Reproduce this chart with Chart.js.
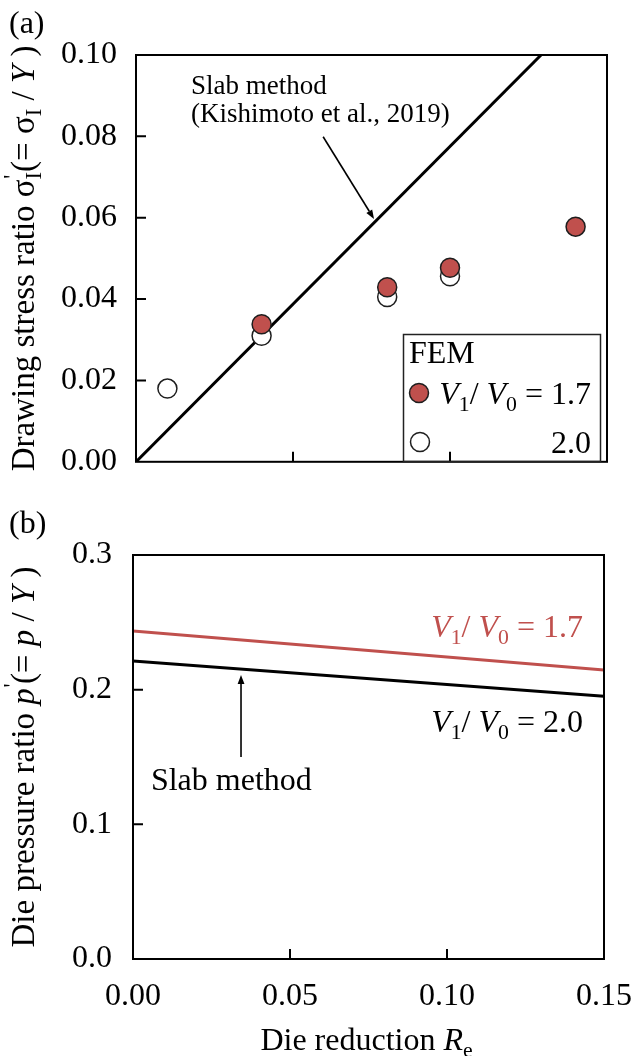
<!DOCTYPE html>
<html>
<head>
<meta charset="utf-8">
<script src="https://cdn.jsdelivr.net/npm/chart.js@4.4.1/dist/chart.umd.min.js"></script>
<style>
  html, body { margin: 0; padding: 0; background: #fff; }
  #c1 { position: absolute; left: 0; top: 0; }
  #c2 { position: absolute; left: 0; top: 500px; }
</style>
</head>
<body>
<canvas id="c1" width="631" height="500"></canvas>
<canvas id="c2" width="631" height="556"></canvas>
<script>
// ---------- data ----------
const xTickLabels = ['0.00', '0.05', '0.10', '0.15'];
const topYTickLabels = ['0.00', '0.02', '0.04', '0.06', '0.08', '0.10'];
const botYTickLabels = ['0.0', '0.1', '0.2', '0.3'];

// (a) FEM drawing stress ratio
const femRe17 = [0.04, 0.08, 0.10, 0.14];
const femSigma17 = [0.0338, 0.0429, 0.0477, 0.0578];
const femRe20 = [0.01, 0.04, 0.08, 0.10];
const femSigma20 = [0.018, 0.031, 0.0405, 0.0456];
// (a) slab method line
const slabRe = [0, 0.129];
const slabSigma = [0, 0.100];

// (b) die pressure ratio, slab method
const pressRe = [0, 0.15];
const press17 = [0.2435, 0.2146];
const press20 = [0.2212, 0.1952];

// ---------- helpers ----------
const SERIF = "'Liberation Serif','Times New Roman',serif";
const RED = '#c0504d';
const EDGE = '#1e1e1e';
const FS = 32;      // general font size
const TFS = 33;     // y-title font size
Chart.defaults.font.family = SERIF;
Chart.defaults.color = '#000';

function fontStr(size, italic) { return (italic ? 'italic ' : '') + size + 'px ' + SERIF; }
function segSize(s, size) { return (s.sub || s.sup) ? size * 0.68 : size; }
function richWidth(ctx, segs, size) {
  let w = 0;
  for (const s of segs) {
    ctx.font = fontStr(segSize(s, size), s.i);
    if (!s.noAdv) w += ctx.measureText(s.t).width;
  }
  return w;
}
function drawRich(ctx, segs, x, y, size, align, color) {
  ctx.save();
  ctx.fillStyle = color || '#000';
  ctx.textBaseline = 'alphabetic';
  ctx.textAlign = 'left';
  const w = richWidth(ctx, segs, size);
  let cx = align === 'center' ? x - w / 2 : align === 'right' ? x - w : x;
  for (const s of segs) {
    ctx.font = fontStr(segSize(s, size), s.i);
    const dy = s.sub ? size * 0.22 : s.sup ? -size * 0.45 : 0;
    ctx.fillText(s.t, cx + (s.dx || 0) * size, y + dy);
    if (!s.noAdv) cx += ctx.measureText(s.t).width;
  }
  ctx.restore();
}
function arrow(ctx, x1, y1, x2, y2, head, lw) {
  ctx.save();
  ctx.strokeStyle = '#000'; ctx.fillStyle = '#000'; ctx.lineWidth = lw;
  const a = Math.atan2(y2 - y1, x2 - x1);
  const bx = x2 - head * Math.cos(a), by = y2 - head * Math.sin(a);
  ctx.beginPath(); ctx.moveTo(x1, y1); ctx.lineTo(bx, by); ctx.stroke();
  const hw = head * 0.38;
  ctx.beginPath();
  ctx.moveTo(x2, y2);
  ctx.lineTo(bx + hw * Math.sin(a), by - hw * Math.cos(a));
  ctx.lineTo(bx - hw * Math.sin(a), by + hw * Math.cos(a));
  ctx.closePath(); ctx.fill();
  ctx.restore();
}
function marker(ctx, x, y, fill) {
  ctx.save();
  ctx.beginPath(); ctx.arc(x, y, 9.5, 0, Math.PI * 2);
  ctx.fillStyle = fill; ctx.fill();
  ctx.lineWidth = 1.5; ctx.strokeStyle = EDGE; ctx.stroke();
  ctx.restore();
}

// frame + inward tick marks
const framePlugin = {
  id: 'frame',
  afterDatasetsDraw(chart) {
    const { ctx, chartArea: ca, scales } = chart;
    ctx.save();
    ctx.strokeStyle = '#000';
    ctx.lineWidth = 2;
    ctx.strokeRect(ca.left, ca.top, ca.right - ca.left, ca.bottom - ca.top);
    const xs = scales.x, ys = scales.y;
    ctx.beginPath();
    xs.ticks.forEach(t => {
      if (t.value <= xs.min + 1e-9 || t.value >= xs.max - 1e-9) return;
      const p = xs.getPixelForValue(t.value);
      ctx.moveTo(p, ca.bottom); ctx.lineTo(p, ca.bottom - 10);
    });
    ys.ticks.forEach(t => {
      if (t.value <= ys.min + 1e-9 || t.value >= ys.max - 1e-9) return;
      const p = ys.getPixelForValue(t.value);
      ctx.moveTo(ca.left, p); ctx.lineTo(ca.left + 10, p);
    });
    ctx.stroke();
    ctx.restore();
  }
};

// annotations for (a)
const annoTop = {
  id: 'annoTop',
  afterDraw(chart) {
    const { ctx, chartArea: ca, scales: { x, y } } = chart;
    drawRich(ctx, [{ t: '(a)' }], 9, 33, FS, 'left');
    ctx.save();
    ctx.translate(34, (ca.top + ca.bottom) / 2);
    ctx.rotate(-Math.PI / 2);
    drawRich(ctx, [
      { t: 'Drawing stress ratio σ' },
      { t: '\'', sup: true, noAdv: true, dx: 0.02 },
      { t: 'I', sub: true },
      { t: '(= σ' },
      { t: 'I', sub: true },
      { t: ' / ' },
      { t: 'Y', i: true },
      { t: ' )' }
    ], 0, 0, TFS, 'center');
    ctx.restore();
    const tx = x.getPixelForValue(0.0175);
    drawRich(ctx, [{ t: 'Slab method' }], tx, y.getPixelForValue(0.0905), 27, 'left');
    drawRich(ctx, [{ t: '(Kishimoto et al., 2019)' }], tx, y.getPixelForValue(0.0835), 27, 'left');
    arrow(ctx, x.getPixelForValue(0.0596), y.getPixelForValue(0.0799),
               x.getPixelForValue(0.0758), y.getPixelForValue(0.0597), 9, 1.6);
    // legend
    ctx.save();
    ctx.lineWidth = 1.5; ctx.strokeStyle = '#222';
    ctx.strokeRect(403.5, 334.5, 197, 127);
    ctx.restore();
    drawRich(ctx, [{ t: 'FEM' }], 409, 363, FS, 'left');
    marker(ctx, 419, 393, RED);
    drawRich(ctx, [
      { t: 'V', i: true }, { t: '1', sub: true }, { t: '/ ' },
      { t: 'V', i: true }, { t: '0', sub: true }, { t: ' = 1.7' }
    ], 591, 404, FS, 'right');
    marker(ctx, 420, 442, '#fff');
    drawRich(ctx, [{ t: '2.0' }], 591, 453, FS, 'right');
  }
};

// annotations for (b)
const annoBot = {
  id: 'annoBot',
  afterDraw(chart) {
    const { ctx, chartArea: ca, scales: { x, y } } = chart;
    drawRich(ctx, [{ t: '(b)' }], 9, 33, FS, 'left');
    ctx.save();
    ctx.translate(34, (ca.top + ca.bottom) / 2);
    ctx.rotate(-Math.PI / 2);
    drawRich(ctx, [
      { t: 'Die pressure ratio ' },
      { t: 'p', i: true },
      { t: '\'', sup: true, dx: 0.02 },
      { t: '(= ' },
      { t: 'p', i: true },
      { t: ' / ' },
      { t: 'Y', i: true },
      { t: ' )' }
    ], 0, 0, TFS, 'center');
    ctx.restore();
    drawRich(ctx, [
      { t: 'Die reduction ' }, { t: 'R', i: true }, { t: 'e', sub: true }
    ], (ca.left + ca.right) / 2 - 2, 550, FS, 'center');
    drawRich(ctx, [
      { t: 'V', i: true }, { t: '1', sub: true }, { t: '/ ' },
      { t: 'V', i: true }, { t: '0', sub: true }, { t: ' = 1.7' }
    ], x.getPixelForValue(0.1433), y.getPixelForValue(0.239), FS, 'right', RED);
    drawRich(ctx, [
      { t: 'V', i: true }, { t: '1', sub: true }, { t: '/ ' },
      { t: 'V', i: true }, { t: '0', sub: true }, { t: ' = 2.0' }
    ], x.getPixelForValue(0.1433), y.getPixelForValue(0.1685), FS, 'right');
    drawRich(ctx, [{ t: 'Slab method' }], x.getPixelForValue(0.0057), y.getPixelForValue(0.1255), FS, 'left');
    arrow(ctx, x.getPixelForValue(0.0344), y.getPixelForValue(0.150),
               x.getPixelForValue(0.0344), y.getPixelForValue(0.2108), 9, 1.6);
  }
};

const noGrid = { display: false, drawTicks: false };

new Chart(document.getElementById('c1'), {
  type: 'scatter',
  data: {
    datasets: [
      {
        label: 'V1/V0 = 1.7',
        data: femRe17.map((v, i) => ({ x: v, y: femSigma17[i] })),
        backgroundColor: RED, borderColor: EDGE, pointRadius: 9.5, pointBorderWidth: 1.5
      },
      {
        label: '2.0',
        data: femRe20.map((v, i) => ({ x: v, y: femSigma20[i] })),
        backgroundColor: '#fff', borderColor: EDGE, pointRadius: 9.5, pointBorderWidth: 1.5
      },
      {
        label: 'Slab method',
        data: slabRe.map((v, i) => ({ x: v, y: slabSigma[i] })),
        showLine: true, borderColor: '#000', borderWidth: 3, pointRadius: 0
      }
    ]
  },
  options: {
    responsive: false, animation: false, events: [],
    layout: { padding: { top: 55, right: 24, left: 0, bottom: 0 } },
    scales: {
      x: {
        type: 'linear', min: 0, max: 0.15,
        ticks: { display: false, stepSize: 0.05 },
        grid: noGrid, border: { display: false },
        afterFit(s) { s.height = 28; s.paddingLeft = 0; s.paddingRight = 0; }
      },
      y: {
        type: 'linear', min: 0, max: 0.1,
        ticks: { stepSize: 0.02, padding: 19, font: { size: FS }, color: '#000',
                 callback: (v, i) => topYTickLabels[i] },
        grid: noGrid, border: { display: false },
        afterFit(s) { s.width = 136; }
      }
    },
    plugins: { legend: { display: false }, tooltip: { enabled: false } }
  },
  plugins: [framePlugin, annoTop]
});

new Chart(document.getElementById('c2'), {
  type: 'scatter',
  data: {
    datasets: [
      {
        label: 'V1/V0 = 1.7',
        data: pressRe.map((v, i) => ({ x: v, y: press17[i] })),
        showLine: true, borderColor: RED, borderWidth: 3, pointRadius: 0
      },
      {
        label: 'V1/V0 = 2.0',
        data: pressRe.map((v, i) => ({ x: v, y: press20[i] })),
        showLine: true, borderColor: '#000', borderWidth: 3, pointRadius: 0
      }
    ]
  },
  options: {
    responsive: false, animation: false, events: [],
    layout: { padding: { top: 55, right: 27, left: 0, bottom: 0 } },
    scales: {
      x: {
        type: 'linear', min: 0, max: 0.15,
        ticks: { stepSize: 0.05, padding: 18, font: { size: FS }, color: '#000', maxRotation: 0,
                 callback: (v, i) => xTickLabels[i] },
        grid: noGrid, border: { display: false },
        afterFit(s) { s.height = 97; s.paddingLeft = 0; s.paddingRight = 0; }
      },
      y: {
        type: 'linear', min: 0, max: 0.3,
        ticks: { stepSize: 0.1, padding: 21, font: { size: FS }, color: '#000',
                 callback: (v, i) => botYTickLabels[i] },
        grid: noGrid, border: { display: false },
        afterFit(s) { s.width = 133; }
      }
    },
    plugins: { legend: { display: false }, tooltip: { enabled: false } }
  },
  plugins: [framePlugin, annoBot]
});
</script>
</body>
</html>
